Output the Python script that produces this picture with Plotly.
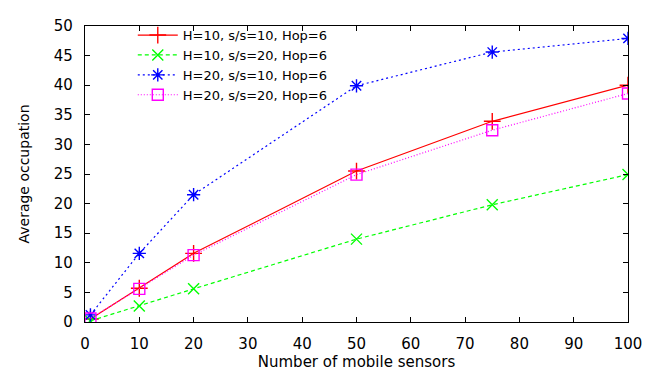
import plotly.graph_objects as go

# Data
sensors = [1, 10, 20, 50, 75, 100]
series_names = [
    "H=10, s/s=10, Hop=6",
    "H=10, s/s=20, Hop=6",
    "H=20, s/s=10, Hop=6",
    "H=20, s/s=20, Hop=6",
]
h10_ss10 = [0.5, 5.7, 11.6, 25.5, 33.9, 40.0]
h10_ss20 = [0.2, 2.7, 5.6, 14.0, 19.8, 24.9]
h20_ss10 = [1.2, 11.6, 21.5, 39.9, 45.6, 47.9]
h20_ss20 = [0.6, 5.6, 11.3, 24.9, 32.4, 38.6]
x_ticks = list(range(0, 101, 10))
y_ticks = list(range(0, 51, 5))

styles = [
    dict(color="#FF0000", dash="solid", symbol="cross-thin-open", size=12),
    dict(color="#00FF00", dash="4px,3px", symbol="x-thin-open", size=11),
    dict(color="#0000FF", dash="2px,3px", symbol="asterisk-open", size=11),
    dict(color="#FF00FF", dash="1px,2px", symbol="square-open", size=11),
]

fig = go.Figure()
for name, ys, st in zip(series_names, [h10_ss10, h10_ss20, h20_ss10, h20_ss20], styles):
    fig.add_trace(go.Scatter(
        x=sensors, y=ys, name=name, mode="lines+markers",
        line=dict(color=st["color"], dash=st["dash"], width=1.2),
        marker=dict(symbol=st["symbol"], size=st["size"], color=st["color"],
                    line=dict(color=st["color"], width=1.4)),
    ))

axis_common = dict(
    showline=True, linecolor="black", linewidth=1.3, mirror="ticks",
    ticks="inside", ticklen=5, tickcolor="black", tickwidth=1,
    showgrid=False, zeroline=False, ticklabelstandoff=8,
    tickfont=dict(family="DejaVu Sans", size=15, color="black"),
)

# The page body adds an 8px offset; figure is sized so the plot area
# lands close to where the reference places it.
fig.update_layout(
    width=657, height=369,
    margin=dict(l=77, r=37, t=9, b=51),
    paper_bgcolor="white", plot_bgcolor="white",
    font=dict(family="DejaVu Sans", size=15, color="black"),
    xaxis=dict(range=[0, 100], tickvals=x_ticks,
               title=dict(text="Number of mobile sensors", standoff=4,
                          font=dict(family="DejaVu Sans", size=15)),
               **axis_common),
    yaxis=dict(range=[0, 50], tickvals=y_ticks,
               title=dict(text="Average occupation", standoff=20,
                          font=dict(family="DejaVu Sans", size=14)),
               **axis_common),
    legend=dict(x=0.088, y=1.02, xanchor="left", yanchor="top",
                bgcolor="rgba(0,0,0,0)", borderwidth=0,
                font=dict(family="DejaVu Sans", size=13),
                tracegroupgap=0, itemwidth=40),
    showlegend=True,
)

fig.write_html("out.html")
